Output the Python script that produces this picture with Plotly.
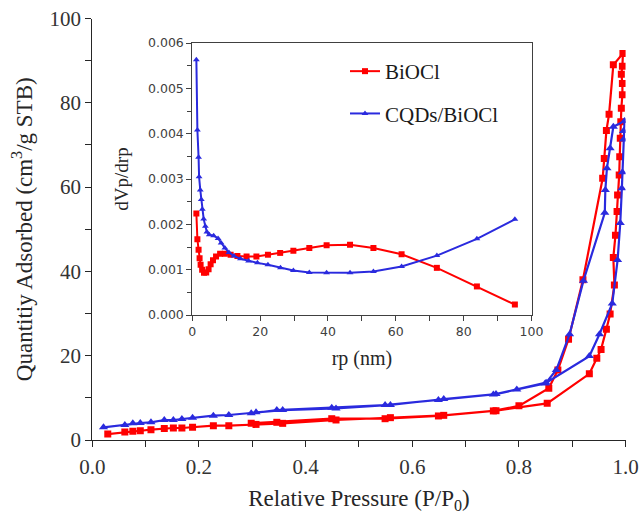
import plotly.graph_objects as go

# ---------------- Main isotherm data ----------------
# BiOCl adsorption branch
p_ads_biocl = [0.029, 0.061, 0.076, 0.090, 0.110, 0.135, 0.152, 0.168, 0.188, 0.227, 0.256, 0.307,
               0.357, 0.457, 0.559, 0.659, 0.757, 0.853, 0.932, 0.946, 0.954, 0.964, 0.971, 0.979,
               0.977, 0.981, 0.984, 0.985, 0.988, 0.989, 0.990, 0.991, 0.992, 0.994, 0.994, 0.992,
               0.994, 0.995]
q_ads_biocl = [1.4, 1.9, 2.1, 2.2, 2.45, 2.75, 2.85, 2.85, 3.05, 3.4, 3.4, 3.7,
               3.95, 4.75, 5.3, 5.85, 6.95, 8.7, 15.7, 19.4, 21.5, 26.3, 29.9, 36.8,
               43.3, 48.6, 54.2, 58.1, 62.9, 67.2, 71.6, 75.5, 78.7, 81.9, 84.6, 86.8,
               88.7, 91.7]
# BiOCl desorption branch
p_des_biocl = [0.977, 0.969, 0.964, 0.960, 0.957, 0.920, 0.893, 0.873, 0.856, 0.800, 0.752,
               0.649, 0.549, 0.449, 0.346, 0.298]
q_des_biocl = [89.0, 77.3, 73.4, 66.8, 62.1, 38.0, 23.9, 16.6, 12.3, 8.1, 6.9,
               5.7, 5.05, 5.05, 4.2, 3.95]

# CQDs/BiOCl adsorption branch
p_ads_cqd = [0.021, 0.061, 0.076, 0.090, 0.110, 0.135, 0.152, 0.168, 0.188, 0.227, 0.256, 0.307,
             0.357, 0.457, 0.559, 0.659, 0.757, 0.849, 0.932, 0.951, 0.975, 0.985, 0.990, 0.993,
             0.994, 0.996, 0.996, 0.998]
q_ads_cqd = [3.0, 3.56, 3.95, 4.03, 4.19, 4.74, 4.74, 4.98, 5.3, 5.77, 5.93, 6.56,
             7.1, 7.5, 8.3, 9.73, 10.9, 13.4, 19.9, 25.1, 32.4, 42.7, 51.5, 59.7,
             63.5, 71.3, 73.3, 75.7]
# CQDs/BiOCl desorption branch
p_des_cqd = [0.977, 0.971, 0.965, 0.962, 0.961, 0.921, 0.895, 0.870, 0.851, 0.796, 0.752,
             0.649, 0.549, 0.449, 0.346, 0.298]
q_des_cqd = [74.3, 69.2, 64.5, 59.3, 53.9, 37.8, 25.1, 16.6, 13.6, 12.0, 10.8,
             9.5, 8.3, 7.67, 7.1, 6.32]

# ---------------- Inset pore size distribution ----------------
rp_biocl = [1.2, 1.5, 1.85, 2.15, 2.45, 2.9, 3.45, 4.1, 4.8, 5.4, 6.1, 7.0, 8.2, 9.6, 11.3,
            13.3, 16.0, 18.9, 22.3, 25.9, 29.8, 34.5, 39.6, 46.5, 53.4, 61.7, 72.1, 83.9, 95.1]
dv_biocl = [0.00224, 0.00167, 0.00144, 0.00125, 0.00111, 0.00100, 0.00093, 0.00094, 0.00101,
            0.00112, 0.00121, 0.00129, 0.00135, 0.00135, 0.00133, 0.00130, 0.00129, 0.00129,
            0.00133, 0.00137, 0.00142, 0.00148, 0.00154, 0.00155, 0.00148, 0.00134, 0.00104,
            0.00063, 0.00023]

rp_cqd = [1.2, 1.5, 1.85, 2.0, 2.35, 2.65, 2.95, 3.35, 3.85, 4.3, 5.0, 6.3, 7.6, 8.5, 9.6, 10.8,
          12.3, 14.2, 16.6, 19.2, 22.3, 26.0, 29.8, 34.5, 39.6, 46.5, 53.4, 61.7, 72.1, 83.9, 95.1]
dv_cqd = [0.00563, 0.00408, 0.00348, 0.00305, 0.00276, 0.00255, 0.00233, 0.00212, 0.00196,
          0.00183, 0.00177, 0.00175, 0.00169, 0.00159, 0.00148, 0.00138, 0.00130, 0.00124,
          0.00119, 0.00115, 0.00111, 0.00104, 0.00098, 0.00094, 0.00093, 0.00093, 0.00096,
          0.00107, 0.00131, 0.00168, 0.00211]

series_names = ["BiOCl", "CQDs/BiOCl"]
RED = "#FF0000"
BLUE = "#2A2ADE"

W, H = 640, 514
SERIF = "Liberation Serif, Times New Roman, serif"
SANS = "DejaVu Sans, Verdana, sans-serif"

fig = go.Figure()

# main isotherms (adsorption then desorption as one polyline)
fig.add_trace(go.Scatter(
    x=p_ads_biocl + p_des_biocl, y=q_ads_biocl + q_des_biocl,
    mode="lines+markers", line=dict(color=RED, width=2.2),
    marker=dict(symbol="square", size=7, color=RED),
    showlegend=False, xaxis="x", yaxis="y", name=series_names[0]))
fig.add_trace(go.Scatter(
    x=p_ads_cqd + p_des_cqd, y=q_ads_cqd + q_des_cqd,
    mode="lines+markers", line=dict(color=BLUE, width=2.2),
    marker=dict(symbol="triangle-up", size=8, color=BLUE),
    showlegend=False, xaxis="x", yaxis="y", name=series_names[1]))

# inset
fig.add_trace(go.Scatter(
    x=rp_biocl, y=dv_biocl, mode="lines+markers", name=series_names[0],
    line=dict(color=RED, width=2), marker=dict(symbol="square", size=6, color=RED),
    xaxis="x2", yaxis="y2", legendgroup="a"))
fig.add_trace(go.Scatter(
    x=rp_cqd, y=dv_cqd, mode="lines+markers", name=series_names[1],
    line=dict(color=BLUE, width=2), marker=dict(symbol="triangle-up", size=6, color=BLUE),
    xaxis="x2", yaxis="y2", legendgroup="b"))

AX = "#262626"
IAX = "#404040"

fig.update_layout(
    width=W, height=H,
    margin=dict(l=0, r=0, t=0, b=0, autoexpand=False),
    paper_bgcolor="white", plot_bgcolor="white",
    xaxis=dict(
        domain=[92.3 / W, 625.6 / W], range=[0, 1.0], anchor="y",
        dtick=0.2, tick0=0, tickformat=".1f",
        ticks="outside", ticklen=6, tickwidth=1, tickcolor=AX,
        minor=dict(dtick=0.1, ticks="outside", ticklen=6, tickwidth=1, tickcolor=AX),
        showline=True, linecolor=AX, linewidth=1, showgrid=False, zeroline=False,
        tickfont=dict(family=SERIF, size=21, color="#333333"), ticklabelstandoff=2,
        title=dict(text="Relative Pressure (P/P<sub>0</sub>)", standoff=12,
                   font=dict(family=SERIF, size=23, color="#262626")),
        automargin=False,
    ),
    yaxis=dict(
        domain=[(H - 440) / H, (H - 18.5) / H], range=[0, 100], anchor="x",
        dtick=20, tick0=0,
        ticks="outside", ticklen=6, tickwidth=1, tickcolor=AX,
        minor=dict(dtick=10, ticks="outside", ticklen=6, tickwidth=1, tickcolor=AX),
        showline=True, linecolor=AX, linewidth=1, showgrid=False, zeroline=False,
        tickfont=dict(family=SERIF, size=21, color="#333333"),
        title=dict(text="Quantitiy Adsorbed (cm<sup>3</sup>/g STB)", standoff=10,
                   font=dict(family=SERIF, size=23, color="#262626")),
        automargin=False,
    ),
    xaxis2=dict(
        domain=[192.3 / W, 531.5 / W], range=[0, 100], anchor="y2",
        dtick=20, tick0=0,
        ticks="outside", ticklen=5, tickwidth=1, tickcolor=IAX,
        minor=dict(dtick=10, ticks="outside", ticklen=5, tickwidth=1, tickcolor=IAX),
        showline=True, mirror=True, linecolor=IAX, linewidth=1, showgrid=False, zeroline=False,
        tickfont=dict(family=SANS, size=12.5, color="#404040"),
        title=dict(text="rp (nm)", standoff=12, font=dict(family=SERIF, size=20, color="#262626")),
        automargin=False,
    ),
    yaxis2=dict(
        domain=[(H - 315) / H, (H - 43) / H], range=[0, 0.006], anchor="x2",
        dtick=0.001, tick0=0, tickformat=".3f",
        ticks="outside", ticklen=5, tickwidth=1, tickcolor=IAX,
        minor=dict(dtick=0.0005, ticks="outside", ticklen=4, tickwidth=1, tickcolor=IAX),
        showline=True, mirror=True, linecolor=IAX, linewidth=1, showgrid=False, zeroline=False,
        tickfont=dict(family=SANS, size=12.5, color="#404040"),
        title=dict(text="dVp/drp", standoff=14, font=dict(family=SERIF, size=19, color="#262626")),
        automargin=False,
    ),
    legend=dict(
        x=345 / W, y=(H - 51) / H, xanchor="left", yanchor="top",
        bgcolor="rgba(0,0,0,0)", borderwidth=0, tracegroupgap=12,
        font=dict(family=SERIF, size=21, color="#1a1a1a"),
    ),
)

fig.write_html("out.html")
